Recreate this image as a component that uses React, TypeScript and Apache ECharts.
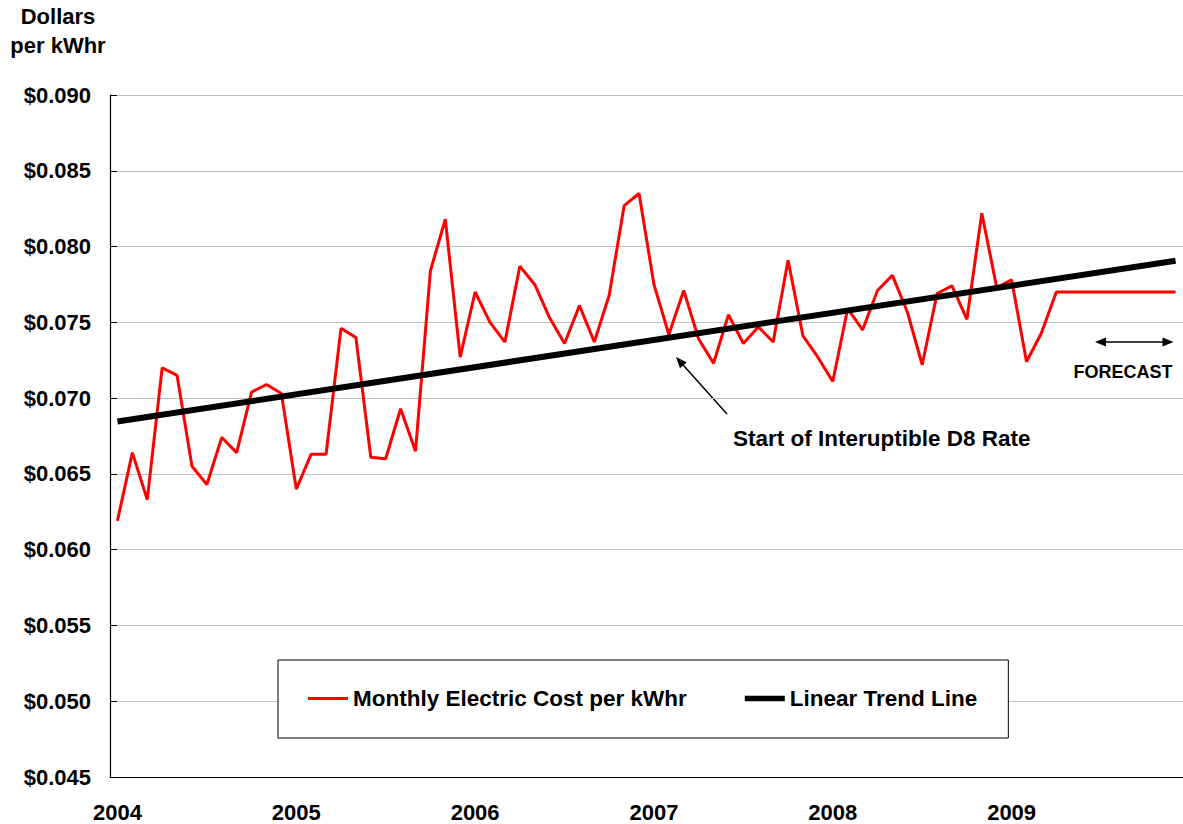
import React, { useEffect, useRef } from "react";
import * as echarts from "echarts";

// ---- data ----
const yearLabels = ["2004", "2005", "2006", "2007", "2008", "2009"];
const monthCodes = ["01", "02", "03", "04", "05", "06", "07", "08", "09", "10", "11", "12"];
const months = yearLabels.flatMap((y) => monthCodes.map((m) => `${y}-${m}`));

// Monthly electric cost, dollars per kWhr (2004-01 .. 2009-12, last 9 months forecast)
const monthlyCost = [
  0.0619, 0.0664, 0.0633, 0.0720, 0.0715, 0.0655, 0.0643, 0.0674, 0.0664, 0.0704, 0.0709, 0.0703,
  0.0640, 0.0663, 0.0663, 0.0746, 0.0740, 0.0661, 0.0660, 0.0693, 0.0665, 0.0784, 0.0818, 0.0727,
  0.0770, 0.0750, 0.0737, 0.0787, 0.0775, 0.0753, 0.0736, 0.0761, 0.0737, 0.0768, 0.0827, 0.0835,
  0.0775, 0.0742, 0.0771, 0.0739, 0.0723, 0.0755, 0.0736, 0.0747, 0.0737, 0.0791, 0.0741, 0.0727,
  0.0711, 0.0759, 0.0745, 0.0771, 0.0781, 0.0757, 0.0722, 0.0769, 0.0774, 0.0752, 0.0822, 0.0773,
  0.0778, 0.0724, 0.0743, 0.0770, 0.0770, 0.0770, 0.0770, 0.0770, 0.0770, 0.0770, 0.0770, 0.0770,
];

// Linear trend line end values (first and last month)
const trendEnds = [0.06846, 0.07906];

const yMin = 0.045;
const yMax = 0.09;
const yStep = 0.005;

const seriesNames = ["Monthly Electric Cost per kWhr", "Linear Trend Line"];

const FONT = "'Liberation Sans', Arial, Helvetica, sans-serif";

export default function App() {
  const ref = useRef<HTMLDivElement>(null);

  useEffect(() => {
    if (!ref.current) return;
    const chart = echarts.init(ref.current, null, { renderer: "svg" });

    const trendData = months.map((_, i) =>
      i === 0 ? trendEnds[0] : i === months.length - 1 ? trendEnds[1] : null
    );

    const boldText = { fontFamily: FONT, fontWeight: "bold" as const, color: "#000" };

    const arrowTip = [676, 357];
    const arrowTail = [727, 414];
    const dx = arrowTail[0] - arrowTip[0];
    const dy = arrowTail[1] - arrowTip[1];
    const len = Math.hypot(dx, dy);
    const ux = dx / len;
    const uy = dy / len;
    const hl = 11;
    const hw = 4.5;
    const bx = arrowTip[0] + ux * hl;
    const by = arrowTip[1] + uy * hl;

    chart.setOption({
      animation: false,
      backgroundColor: "#fff",
      grid: { left: 110, top: 95, width: 1078, height: 682, containLabel: false },
      xAxis: {
        type: "category",
        data: months,
        boundaryGap: true,
        axisLine: { lineStyle: { color: "#000", width: 1.2 } },
        axisTick: { inside: true, length: 7, interval: 11, alignWithLabel: false, lineStyle: { color: "#000" } },
        axisLabel: {
          interval: 11,
          margin: 24,
          fontSize: 22,
          ...boldText,
          formatter: (v: string) => v.slice(0, 4),
        },
        splitLine: { show: false },
      },
      yAxis: {
        type: "value",
        min: yMin,
        max: yMax,
        interval: yStep,
        axisLine: { show: true, lineStyle: { color: "#000", width: 1.2 } },
        axisTick: { show: true, inside: true, length: 7, lineStyle: { color: "#000" } },
        axisLabel: {
          margin: 19,
          fontSize: 22,
          ...boldText,
          formatter: (v: number) => "$" + v.toFixed(3),
        },
        splitLine: { show: true, lineStyle: { color: "#c0c0c0", width: 1 } },
      },
      legend: {
        left: 278,
        top: 660,
        data: [
          { name: seriesNames[0], icon: "path://M0,0H40V3.2H0Z", itemStyle: { color: "#ff0000" } },
          { name: seriesNames[1], icon: "path://M0,0H40V5.5H0Z", itemStyle: { color: "#000" } },
        ],
        orient: "horizontal",
        itemWidth: 40,
        itemHeight: 14,
        itemGap: 58,
        padding: [27, 31, 28, 30],
        backgroundColor: "#fff",
        borderColor: "#000",
        borderWidth: 1,
        textStyle: { fontSize: 22.5, ...boldText },
        selectedMode: false,
      },
      series: [
        {
          name: seriesNames[0],
          type: "line",
          data: monthlyCost,
          symbol: "none",
          lineStyle: { color: "#ff0000", width: 3 },
          itemStyle: { color: "#ff0000" },
          z: 3,
        },
        {
          name: seriesNames[1],
          type: "line",
          data: trendData,
          connectNulls: true,
          symbol: "none",
          lineStyle: { color: "#000", width: 6 },
          itemStyle: { color: "#000" },
          z: 4,
        },
      ],
      graphic: [
        {
          type: "text",
          x: 58,
          y: 2,
          style: {
            text: "Dollars\nper kWhr",
            align: "center",
            verticalAlign: "top",
            font: `bold 22px ${FONT}`,
            lineHeight: 29,
            fill: "#000",
          },
        },
        {
          type: "line",
          shape: { x1: arrowTail[0], y1: arrowTail[1], x2: bx, y2: by },
          style: { stroke: "#000", lineWidth: 1.5 },
        },
        {
          type: "polygon",
          shape: {
            points: [
              [arrowTip[0], arrowTip[1]],
              [bx - uy * hw, by + ux * hw],
              [bx + uy * hw, by - ux * hw],
            ],
          },
          style: { fill: "#000" },
        },
        {
          type: "text",
          x: 733,
          y: 438,
          style: {
            text: "Start of Interuptible D8 Rate",
            align: "left",
            verticalAlign: "middle",
            font: `bold 22.5px ${FONT}`,
            fill: "#000",
          },
        },
        {
          type: "line",
          shape: { x1: 1104, y1: 342, x2: 1164, y2: 342 },
          style: { stroke: "#000", lineWidth: 1.5 },
        },
        {
          type: "polygon",
          shape: { points: [[1095, 342], [1106, 337.5], [1106, 346.5]] },
          style: { fill: "#000" },
        },
        {
          type: "polygon",
          shape: { points: [[1173.5, 342], [1162.5, 337.5], [1162.5, 346.5]] },
          style: { fill: "#000" },
        },
        {
          type: "text",
          x: 1123,
          y: 372,
          style: {
            text: "FORECAST",
            align: "center",
            verticalAlign: "middle",
            font: `bold 18px ${FONT}`,
            fill: "#000",
          },
        },
      ],
    });

    return () => chart.dispose();
  }, []);

  return (
    <div
      ref={ref}
      style={{ position: "fixed", left: 0, top: 0, width: 1183, height: 824, background: "#fff" }}
    />
  );
}
